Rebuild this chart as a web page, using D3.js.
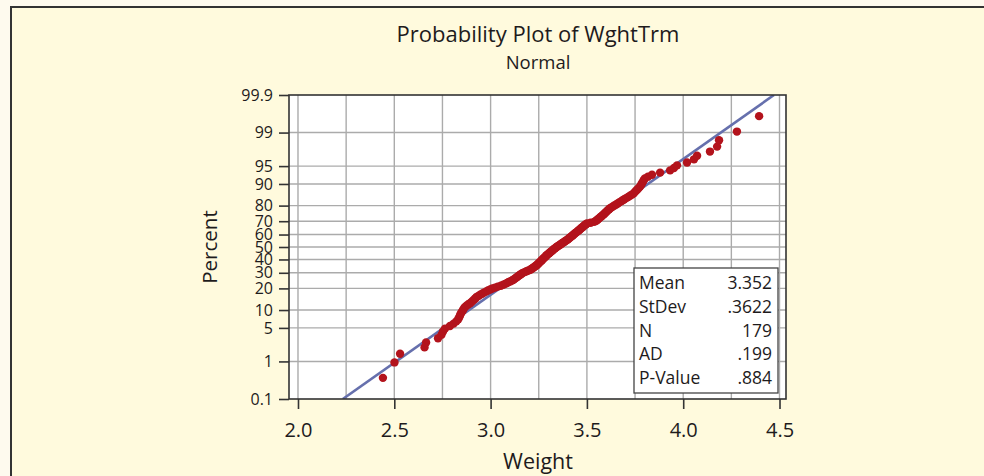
<!DOCTYPE html>
<html>
<head>
<meta charset="utf-8">
<script src="https://cdn.jsdelivr.net/npm/d3@7"></script>
<style>
  html, body { margin: 0; padding: 0; background: #fefaee; }
  svg { display: block; }
  text { font-family: "Open Sans", "Noto Sans", sans-serif; fill: #1e1b1c; }
</style>
</head>
<body>
<svg id="chart" width="984" height="476"></svg>
<script>
// ---- data (sorted weights) ----
const weights = [
  2.441, 2.501, 2.530, 2.657, 2.665, 2.727, 2.745, 2.753, 2.763, 2.789,
  2.808, 2.822, 2.832, 2.837, 2.841, 2.845, 2.850, 2.856, 2.860, 2.865,
  2.873, 2.883, 2.893, 2.901, 2.908, 2.915, 2.922, 2.927, 2.937, 2.946,
  2.956, 2.965, 2.976, 2.986, 2.998, 3.009, 3.023, 3.037, 3.053, 3.066,
  3.076, 3.085, 3.094, 3.104, 3.113, 3.120, 3.126, 3.132, 3.138, 3.144,
  3.149, 3.155, 3.161, 3.167, 3.177, 3.186, 3.196, 3.206, 3.212, 3.217,
  3.223, 3.228, 3.234, 3.239, 3.243, 3.247, 3.251, 3.254, 3.258, 3.262,
  3.266, 3.269, 3.273, 3.277, 3.280, 3.284, 3.288, 3.291, 3.295, 3.300,
  3.304, 3.308, 3.313, 3.317, 3.321, 3.325, 3.329, 3.334, 3.338, 3.343,
  3.348, 3.353, 3.359, 3.364, 3.369, 3.374, 3.379, 3.385, 3.390, 3.396,
  3.400, 3.405, 3.409, 3.414, 3.418, 3.423, 3.427, 3.431, 3.436, 3.440,
  3.445, 3.449, 3.454, 3.458, 3.463, 3.467, 3.471, 3.477, 3.481, 3.485,
  3.490, 3.495, 3.500, 3.519, 3.537, 3.546, 3.551, 3.556, 3.561, 3.565,
  3.571, 3.576, 3.581, 3.586, 3.591, 3.595, 3.600, 3.605, 3.610, 3.615,
  3.620, 3.628, 3.635, 3.643, 3.652, 3.660, 3.668, 3.677, 3.686, 3.694,
  3.704, 3.714, 3.724, 3.734, 3.743, 3.749, 3.755, 3.762, 3.769, 3.776,
  3.781, 3.785, 3.790, 3.795, 3.801, 3.817, 3.838, 3.880, 3.932, 3.952,
  3.968, 4.020, 4.056, 4.072, 4.139, 4.176, 4.186, 4.279, 4.394
];
const percentTicks = [0.1, 1, 5, 10, 20, 30, 40, 50, 60, 70, 80, 90, 95, 99, 99.9];
const percentTickLabels = ["0.1", "1", "5", "10", "20", "30", "40", "50", "60", "70", "80", "90", "95", "99", "99.9"];
const xTicks = [2.0, 2.5, 3.0, 3.5, 4.0, 4.5];
const xGrid = [2.0, 2.25, 2.5, 2.75, 3.0, 3.25, 3.5, 3.75, 4.0, 4.25, 4.5];
const statLabels = ["Mean", "StDev", "N", "AD", "P-Value"];
const statValues = ["3.352", ".3622", "179", ".199", ".884"];
const fitMean = 3.352;
const fitSd = 0.3622;
const titleText = "Probability Plot of WghtTrm";
const subtitleText = "Normal";
const xLabel = "Weight";
const yLabel = "Percent";

// inverse standard normal CDF (Acklam)
function invNorm(p) {
  const a = [-3.969683028665376e+01, 2.209460984245205e+02, -2.759285104469687e+02, 1.383577518672690e+02, -3.066479806614716e+01, 2.506628277459239e+00];
  const b = [-5.447609879822406e+01, 1.615858368580409e+02, -1.556989798598866e+02, 6.680131188771972e+01, -1.328068155288572e+01];
  const c = [-7.784894002430293e-03, -3.223964580411365e-01, -2.400758277161838e+00, -2.549732539343734e+00, 4.374664141464968e+00, 2.938163982698783e+00];
  const d = [7.784695709041462e-03, 3.224671290700398e-01, 2.445134137142996e+00, 3.754408661907416e+00];
  const pl = 0.02425, ph = 1 - pl;
  let q, r;
  if (p < pl) {
    q = Math.sqrt(-2 * Math.log(p));
    return (((((c[0]*q+c[1])*q+c[2])*q+c[3])*q+c[4])*q+c[5]) / ((((d[0]*q+d[1])*q+d[2])*q+d[3])*q+1);
  } else if (p <= ph) {
    q = p - 0.5; r = q*q;
    return (((((a[0]*r+a[1])*r+a[2])*r+a[3])*r+a[4])*r+a[5])*q / (((((b[0]*r+b[1])*r+b[2])*r+b[3])*r+b[4])*r+1);
  } else {
    q = Math.sqrt(-2 * Math.log(1 - p));
    return -(((((c[0]*q+c[1])*q+c[2])*q+c[3])*q+c[4])*q+c[5]) / ((((d[0]*q+d[1])*q+d[2])*q+d[3])*q+1);
  }
}

const svg = d3.select("#chart");

// outer frame
svg.append("rect").attr("x", 11).attr("y", 7).attr("width", 1000).attr("height", 500)
  .attr("fill", "#fffadd").attr("stroke", "#333").attr("stroke-width", 2);

const plot = { left: 289, right: 786, top: 95, bottom: 399 };
const zMax = invNorm(0.999);

const x = d3.scaleLinear().domain([1.9533, 4.5337]).range([plot.left, plot.right]);
const y = d3.scaleLinear().domain([-zMax, zMax]).range([plot.bottom, plot.top]);
const yp = pct => y(invNorm(pct / 100));

// plot background
svg.append("rect").attr("x", plot.left).attr("y", plot.top)
  .attr("width", plot.right - plot.left).attr("height", plot.bottom - plot.top)
  .attr("fill", "#ffffff");

// gridlines
const grid = svg.append("g").attr("stroke", "#ababab").attr("stroke-width", 1.4);
grid.selectAll("line.v").data(xGrid).enter().append("line")
  .attr("x1", d => x(d)).attr("x2", d => x(d))
  .attr("y1", plot.top).attr("y2", plot.bottom);
grid.selectAll("line.h").data(percentTicks.filter(p => p > 0.1 && p < 99.9)).enter().append("line")
  .attr("x1", plot.left).attr("x2", plot.right)
  .attr("y1", d => yp(d)).attr("y2", d => yp(d));

// clip for fit line
svg.append("clipPath").attr("id", "plotClip").append("rect")
  .attr("x", plot.left).attr("y", plot.top)
  .attr("width", plot.right - plot.left).attr("height", plot.bottom - plot.top);

// fitted line
svg.append("line")
  .attr("clip-path", "url(#plotClip)")
  .attr("x1", x(fitMean - zMax * fitSd)).attr("y1", y(-zMax))
  .attr("x2", x(fitMean + zMax * fitSd)).attr("y2", y(zMax))
  .attr("stroke", "#6670ad").attr("stroke-width", 2.6);

// points (median rank plotting positions)
const n = weights.length;
svg.append("g").selectAll("circle").data(weights).enter().append("circle")
  .attr("cx", d => x(d))
  .attr("cy", (d, i) => y(invNorm((i + 1 - 0.3) / (n + 0.4))))
  .attr("r", 4.2)
  .attr("fill", "#b3131c");

// plot border
svg.append("rect").attr("x", plot.left).attr("y", plot.top)
  .attr("width", plot.right - plot.left).attr("height", plot.bottom - plot.top)
  .attr("fill", "none").attr("stroke", "#333").attr("stroke-width", 1.6);

// x axis
const xAxis = d3.axisBottom(x).tickValues(xTicks).tickFormat(d3.format(".1f")).tickSize(10).tickPadding(14);
const gx = svg.append("g").attr("transform", `translate(0,${plot.bottom})`).call(xAxis);
gx.select(".domain").remove();
gx.selectAll(".tick line").attr("stroke", "#333").attr("stroke-width", 1.6);
gx.selectAll(".tick text").style("font-size", "20px").attr("fill", "#1e1b1c")
  .style("font-family", "'Open Sans', sans-serif");

// y axis
const yAxis = d3.axisLeft(y).tickValues(percentTicks.map(p => invNorm(p / 100)))
  .tickFormat((d, i) => percentTickLabels[i]).tickSize(10).tickPadding(6);
const gy = svg.append("g").attr("transform", `translate(${plot.left},0)`).call(yAxis);
gy.select(".domain").remove();
gy.selectAll(".tick line").attr("stroke", "#333").attr("stroke-width", 1.6);
gy.selectAll(".tick text").style("font-size", "16px").attr("fill", "#1e1b1c")
  .style("font-family", "'Open Sans', sans-serif");

// titles
svg.append("text").attr("x", 538).attr("y", 42).attr("text-anchor", "middle")
  .style("font-size", "22px").text(titleText);
svg.append("text").attr("x", 538).attr("y", 69).attr("text-anchor", "middle")
  .style("font-size", "18.5px").text(subtitleText);
svg.append("text").attr("x", 538).attr("y", 469).attr("text-anchor", "middle")
  .style("font-size", "21.5px").text(xLabel);
svg.append("text").attr("transform", "translate(217,247) rotate(-90)").attr("text-anchor", "middle")
  .style("font-size", "20.5px").text(yLabel);

// stats box
const box = { x: 634, y: 268, w: 144, h: 125 };
svg.append("rect").attr("x", box.x).attr("y", box.y).attr("width", box.w).attr("height", box.h)
  .attr("fill", "#ffffff").attr("stroke", "#444").attr("stroke-width", 1.3);
const rowY = d3.scaleLinear().domain([0, 4]).range([289, 384]);
svg.append("g").selectAll("text").data(statLabels).enter().append("text")
  .attr("x", box.x + 5).attr("y", (d, i) => rowY(i))
  .style("font-size", "17.5px").text(d => d);
svg.append("g").selectAll("text").data(statValues).enter().append("text")
  .attr("x", box.x + box.w - 6).attr("y", (d, i) => rowY(i)).attr("text-anchor", "end")
  .style("font-size", "17.5px").text(d => d);
</script>
</body>
</html>
